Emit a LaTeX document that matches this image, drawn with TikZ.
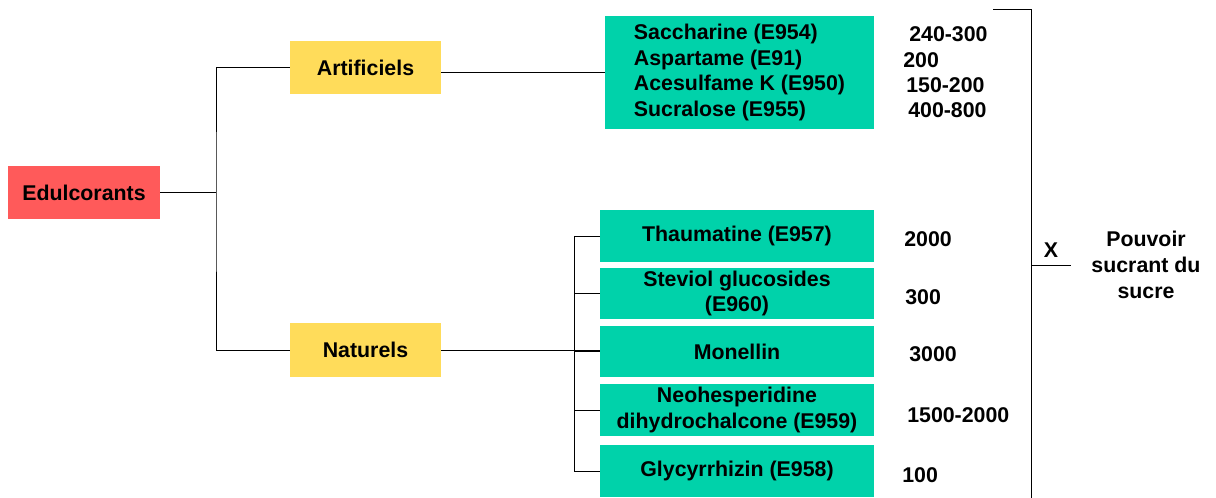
\documentclass[tikz,border=0pt]{standalone}
\usepackage{fontspec}
\setmainfont{Liberation Sans}
\definecolor{cred}{RGB}{255,90,90}
\definecolor{cyellow}{RGB}{255,220,90}
\definecolor{cgreen}{RGB}{0,210,170}
\begin{document}
\begin{tikzpicture}[x=0.75pt,y=-0.75pt,
  every node/.style={font=\bfseries\fontsize{16}{19.3}\selectfont, inner sep=0pt},
  redbox/.style={fill=cred, minimum width=114pt, minimum height=39.75pt},
  catbox/.style={fill=cyellow, minimum width=113.25pt, minimum height=40pt},
  greenbox/.style={fill=cgreen, minimum width=205.5pt, minimum height=38.5pt, align=center},
  num/.style={anchor=west},
  conn/.style={line width=0.65pt, black}]
\useasboundingbox (0,0) rectangle (1216,498);
% nodes
\node[redbox] (edul) at (84,192.5) {Edulcorants};
\node[catbox] (art) at (365.5,67.5) {Artificiels};
\node[catbox] (nat) at (365.5,350) {Naturels};
\node[fill=cgreen, minimum width=201.75pt, minimum height=84.75pt, align=left] (list) at (739.5,72.5)
  {Saccharine (E954)\\Aspartame (E91)\\Acesulfame K (E950)\\Sucralose (E955)};
\node[greenbox] (thau) at (737,236) {Thaumatine (E957)};
\node[greenbox] (stev) at (737,293.5) {Steviol glucosides\\(E960)};
\node[greenbox] (mon) at (737,351.5) {Monellin};
\node[greenbox] (neo) at (737,410) {Neohesperidine\\dihydrochalcone (E959)};
\node[greenbox] (gly) at (737,471) {Glycyrrhizin (E958)};
% values
\node[num] (v1) at (909,34) {240-300};
\node[num] (v2) at (903,60) {200};
\node[num] (v3) at (906,85) {150-200};
\node[num] (v4) at (908,110) {400-800};
\node[num] (v5) at (904,239) {2000};
\node[num] (v6) at (905,297) {300};
\node[num] (v7) at (909,354) {3000};
\node[num] (v8) at (907,415) {1500-2000};
\node[num] (v9) at (902,475) {100};
\node (x) at (1051,250) {X};
\node[align=center] (pouv) at (1146,265) {Pouvoir\\sucrant du\\sucre};
% connectors
\coordinate (j1) at (216,195);
\coordinate (b) at (574,0);
\coordinate (rt) at (993,9);
\coordinate (rc) at (1031,9);
\coordinate (rb) at (1031,498);
\coordinate (xm) at (1031,265);
\coordinate (xe) at (1071,265);
\draw[conn] (edul.east) -- (edul.east -| j1);
\draw[conn] (art.west) -| (j1) |- (nat.west);
\draw[conn] (list.west) -- (list.west -| art.east);
\draw[conn] (nat.east) -- (nat.east -| mon.west);
\draw[conn] (thau.west -| b) -- (gly.west -| b);
\foreach \n in {thau,stev,mon,neo,gly}{
  \draw[conn] (\n.west) -- (\n.west -| b);
}
\draw[conn] (rt) -- (rc) -- (rb);
\draw[conn] (xm) -- (xe);
\end{tikzpicture}
\end{document}
